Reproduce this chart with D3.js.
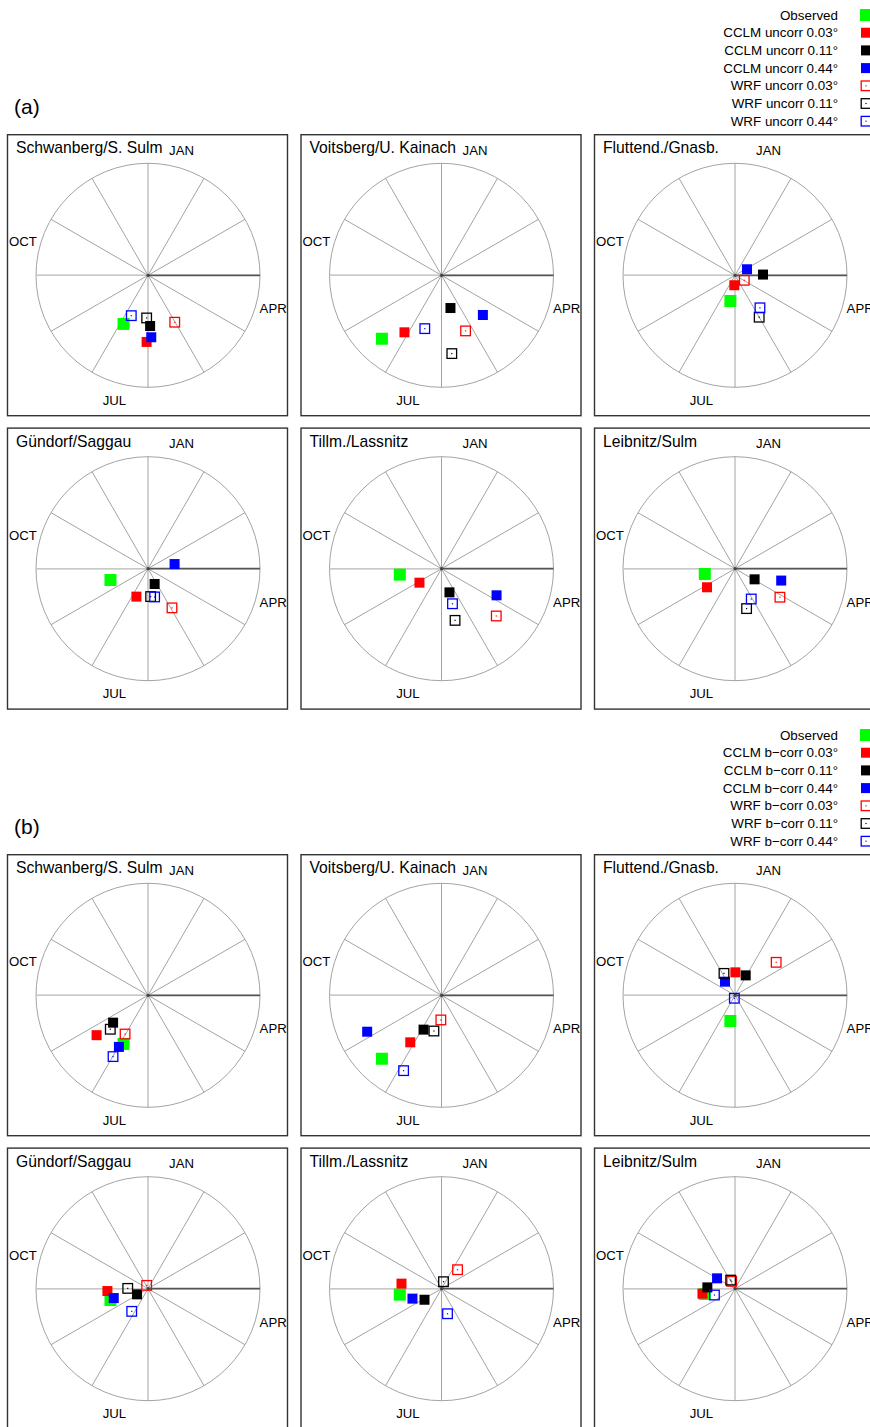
<!DOCTYPE html>
<html><head><meta charset="utf-8">
<script src="https://cdn.jsdelivr.net/npm/d3@7"></script>
<style>
body{margin:0;background:#fff}
svg{display:block}
text{font-family:"Liberation Sans",Arial,Helvetica,sans-serif;fill:#000}
</style>
</head><body>
<svg id="chart" width="870" height="1427"></svg>
<script>
// ---------- data ----------
const stations = ["Schwanberg/S. Sulm","Voitsberg/U. Kainach","Fluttend./Gnasb.","Gündorf/Saggau","Tillm./Lassnitz","Leibnitz/Sulm"];
const monthTicks = [0,1,2,3,4,5,6,7,8,9,10,11];
const monthLabelNames = ["JAN","APR","JUL","OCT"];
const monthLabelAt = [0,3,6,9];
const panelTags = ["(a)","(b)"];
const legendUncorr = ["Observed","CCLM uncorr 0.03°","CCLM uncorr 0.11°","CCLM uncorr 0.44°","WRF uncorr 0.03°","WRF uncorr 0.11°","WRF uncorr 0.44°"];
const legendBcorr  = ["Observed","CCLM b\u2212corr 0.03°","CCLM b\u2212corr 0.11°","CCLM b\u2212corr 0.44°","WRF b\u2212corr 0.03°","WRF b\u2212corr 0.11°","WRF b\u2212corr 0.44°"];

// mean timing (months since 1 Jan) and seasonality strength (0..1), per station
const obsMonth    = [6.89, 7.44, 6.34, 8.44, 8.73, 8.67];
const obsStrength = [0.486,0.777,0.233,0.350,0.376,0.274];

// uncorrected
const cclm003uMonth = [6.04, 7.10, 6.13, 6.75, 7.92, 7.88];
const cclm003uStr   = [0.595,0.607,0.089,0.270,0.233,0.300];
const cclm011uMonth = [5.92, 5.49, 2.95, 5.22, 5.38, 3.95];
const cclm011uStr   = [0.453,0.303,0.250,0.149,0.223,0.199];
const cclm044uMonth = [5.90, 4.46, 2.11, 2.67, 3.86, 3.48];
const cclm044uStr   = [0.554,0.512,0.120,0.241,0.546,0.426];
const wrf003uMonth  = [5.01, 5.22, 3.94, 4.95, 4.36, 4.08];
const wrf003uStr    = [0.482,0.541,0.094,0.410,0.646,0.475];
const wrf011uMonth  = [6.06, 5.75, 5.00, 5.82, 5.51, 5.46];
const wrf011uStr    = [0.381,0.705,0.432,0.250,0.477,0.371];
const wrf044uMonth  = [6.75, 6.58, 4.75, 5.56, 5.42, 5.06];
const wrf044uStr    = [0.390,0.499,0.366,0.259,0.328,0.307];

// bias corrected
const cclm003bMonth = [7.74, 7.12, 0.03, 8.89, 9.24, 8.71];
const cclm003bStr   = [0.581,0.504,0.205,0.363,0.360,0.294];
const cclm011bMonth = [7.73, 6.92, 0.94, 8.09, 7.90, 9.09];
const cclm011bStr   = [0.396,0.346,0.202,0.110,0.181,0.247];
const cclm044bMonth = [6.98, 8.13,10.79, 8.49, 8.37,10.00];
const cclm044bStr   = [0.529,0.739,0.151,0.317,0.274,0.185];
const wrf003bMonth  = [7.02, 6.05, 1.71,11.27, 1.34,11.19];
const wrf003bStr    = [0.402,0.220,0.471,0.032,0.222,0.072];
const wrf011bMonth  = [7.60, 6.40,11.11, 9.03, 0.53,11.11];
const wrf011bStr    = [0.453,0.326,0.219,0.181,0.065,0.086];
const wrf044bMonth  = [6.99, 6.89, 6.42, 7.19, 5.55, 8.43];
const wrf044bStr    = [0.630,0.753,0.027,0.249,0.230,0.192];

// ---------- styles ----------
const seriesColor  = ["#00ff00","#ff0000","#000000","#0000ff","#ff0000","#000000","#0000ff"];
const seriesFilled = [true,true,true,true,false,false,false];

const blocks = [
  {tag: panelTags[0], legend: legendUncorr, series: [
    [obsMonth,obsStrength],[cclm003uMonth,cclm003uStr],[cclm011uMonth,cclm011uStr],[cclm044uMonth,cclm044uStr],
    [wrf003uMonth,wrf003uStr],[wrf011uMonth,wrf011uStr],[wrf044uMonth,wrf044uStr]]},
  {tag: panelTags[1], legend: legendBcorr, series: [
    [obsMonth,obsStrength],[cclm003bMonth,cclm003bStr],[cclm011bMonth,cclm011bStr],[cclm044bMonth,cclm044bStr],
    [wrf003bMonth,wrf003bStr],[wrf011bMonth,wrf011bStr],[wrf044bMonth,wrf044bStr]]}
];

// ---------- layout ----------
const svg = d3.select("#chart");
const R = 112;
const angle = d3.scaleLinear().domain([0,12]).range([0, 2*Math.PI]);   // clockwise from top
const radius = d3.scaleLinear().domain([0,1]).range([0, R]);
const px = (m, s) => radius(s) * Math.sin(angle(m));
const py = (m, s) => -radius(s) * Math.cos(angle(m));
const colX = [148, 441.5, 735];
const rowY = [275.3, 568.7];
const blockDY = 720;

blocks.forEach((blk, bi) => {
  const g = svg.append("g").attr("transform", `translate(0,${bi*blockDY})`);
  g.append("text").attr("x", 14).attr("y", 114).style("font-size","21px").text(blk.tag);

  // legend
  const leg = g.append("g");
  blk.legend.forEach((lab, i) => {
    const y = 15 + i*17.7;
    leg.append("text").attr("x", 838).attr("y", y).attr("dy","0.35em")
      .attr("text-anchor","end").style("font-size","13.4px").text(lab);
    drawMarker(leg, 866, y, i);
  });

  stations.forEach((name, si) => {
    const cx = colX[si % 3], cy = rowY[Math.floor(si/3)];
    const p = g.append("g").attr("transform", `translate(${cx},${cy})`);
    p.append("rect").attr("x",-140.5).attr("y",-140.6).attr("width",280).attr("height",281)
      .attr("fill","none").attr("stroke","#333").attr("stroke-width",1.4);
    p.append("circle").attr("r", R).attr("fill","none").attr("stroke","#999").attr("stroke-width",0.9);
    p.selectAll("line.spoke").data(monthTicks).enter().append("line")
      .attr("x1",0).attr("y1",0)
      .attr("x2", d => px(d,1)).attr("y2", d => py(d,1))
      .attr("stroke","#999").attr("stroke-width",0.9);
    // horizontal reference axis
    p.append("line").attr("x1",0).attr("y1",0).attr("x2",px(9,1)).attr("y2",py(9,1))
      .attr("stroke","#c8c8c8").attr("stroke-width",1.6);
    p.append("line").attr("x1",0).attr("y1",0).attr("x2",px(3,1)).attr("y2",py(3,1))
      .attr("stroke","#555").attr("stroke-width",1.8);
    p.append("circle").attr("r",1.6).attr("fill","#444");
    monthLabelNames.forEach((lab, k) => {
      const m = monthLabelAt[k] + 0.5;
      p.append("text").attr("x", px(m, 1.157)).attr("y", py(m, 1.157)).attr("dy","0.35em")
        .attr("text-anchor","middle").style("font-size","13.2px").text(lab);
    });
    p.append("text").attr("x",-132).attr("y",-122).style("font-size","15.7px").text(name);
    blk.series.forEach((ser, k) => {
      drawMarker(p, px(ser[0][si], ser[1][si]), py(ser[0][si], ser[1][si]), k);
    });
  });
});

function drawMarker(sel, x, y, k) {
  const col = seriesColor[k];
  if (seriesFilled[k]) {
    const s = k === 0 ? 12 : 10;
    sel.append("rect").attr("x", x - s/2).attr("y", y - s/2).attr("width", s).attr("height", s).attr("fill", col);
  } else {
    const s = 9.6;
    sel.append("rect").attr("x", x - s/2).attr("y", y - s/2).attr("width", s).attr("height", s)
      .attr("fill","none").attr("stroke", col).attr("stroke-width",1.3);
    sel.append("rect").attr("x", x - 0.6).attr("y", y - 0.6).attr("width",1.2).attr("height",1.2).attr("fill", col);
  }
}
</script>
</body></html>
